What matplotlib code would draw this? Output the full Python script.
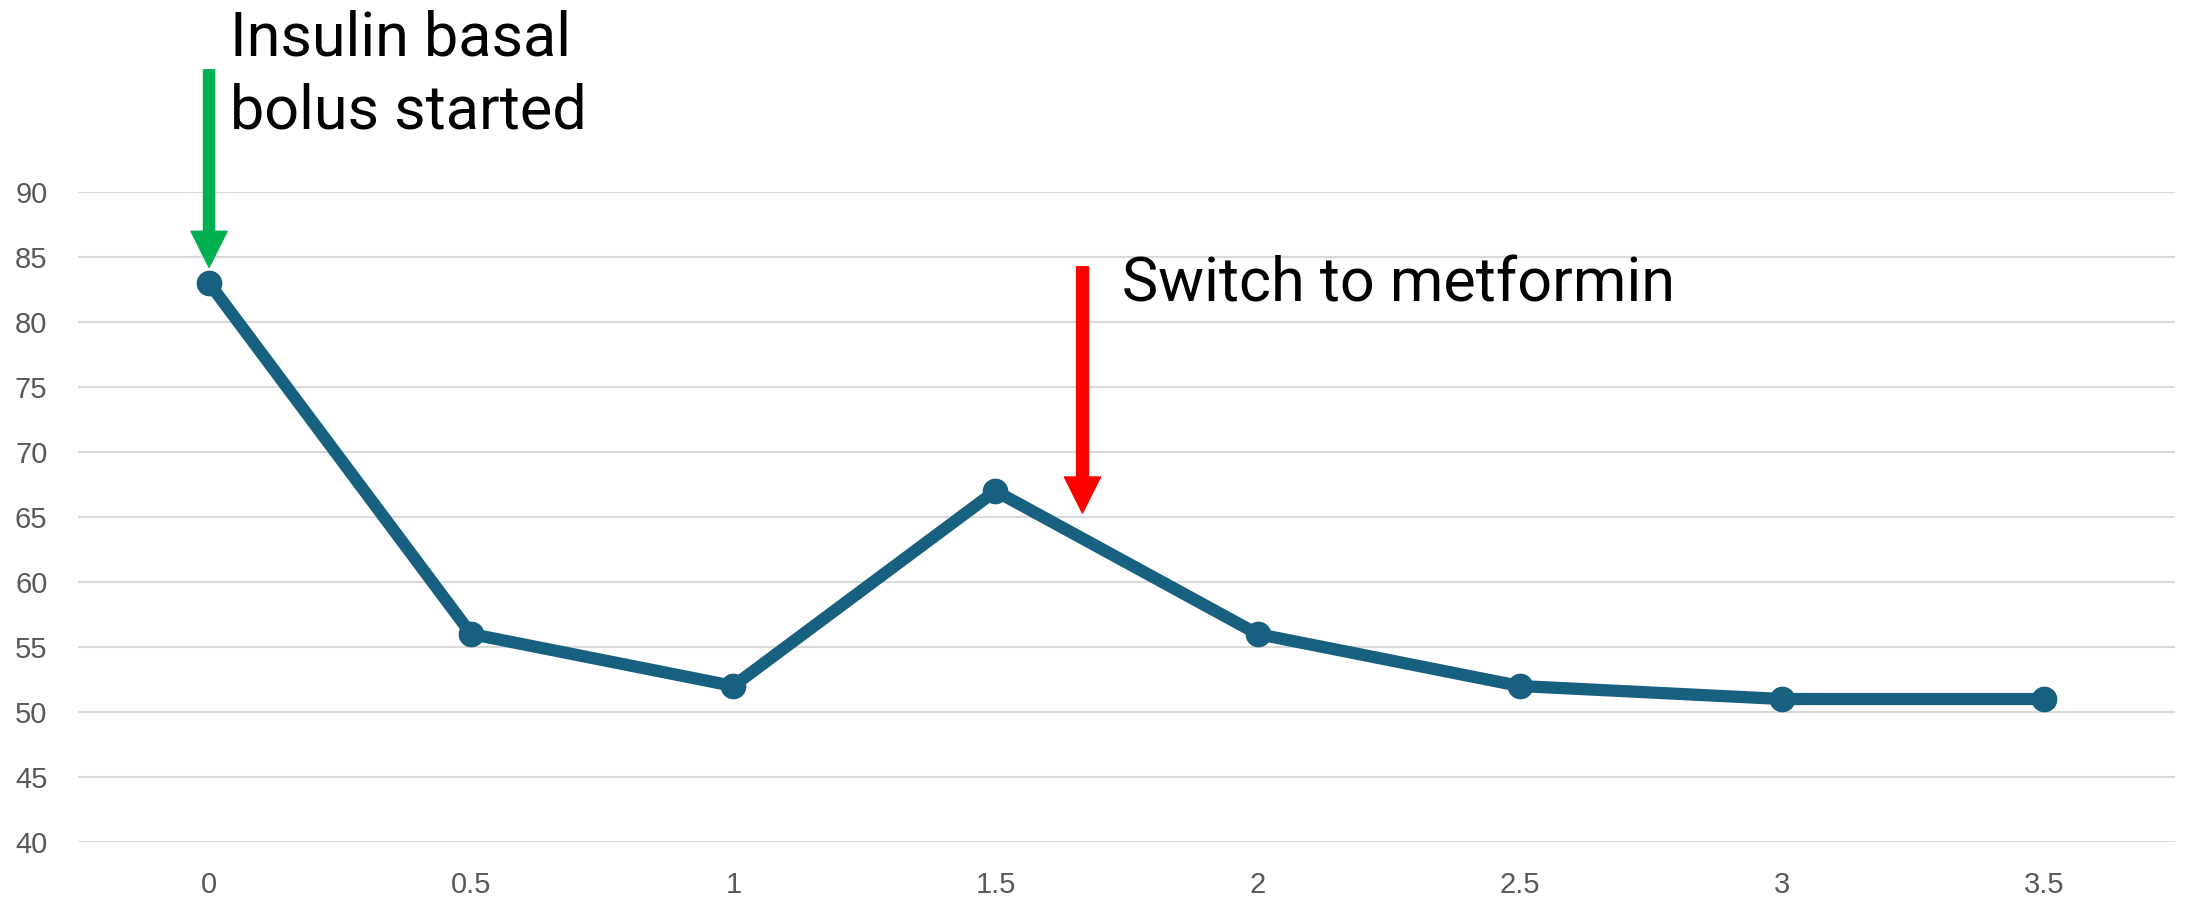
import numpy as np
from matplotlib import pyplot as plt

# data
years = [0, 0.5, 1, 1.5, 2, 2.5, 3, 3.5]
values = [83, 56, 52, 67, 56, 52, 51, 51]
x_ticks = [0, 0.5, 1, 1.5, 2, 2.5, 3, 3.5]
x_labels = ['0', '0.5', '1', '1.5', '2', '2.5', '3', '3.5']
y_ticks = [40, 45, 50, 55, 60, 65, 70, 75, 80, 85, 90]

line_col = '#18607F'
grid_col = '#D9D9D9'
tick_col = '#595959'
tick_font = ['Liberation Sans', 'DejaVu Sans']
note_font = ['Roboto', 'DejaVu Sans']

my_dpi = 100
fig = plt.figure(figsize=(2188/my_dpi, 900/my_dpi), dpi=my_dpi)
ax = fig.add_axes([78/2188, 1-842/900, (2175-78)/2188, (842-192)/900])

ax.plot(years, values, '-o', color=line_col, linewidth=8.8, markersize=17.5,
        solid_joinstyle='round', zorder=3)

ax.set_xlim(-0.25, 3.75)
ax.set_ylim(40, 90)
ax.set_xticks(x_ticks)
ax.set_xticklabels(x_labels)
ax.set_yticks(y_ticks)
ax.grid(axis='y', color=grid_col, linewidth=1.5)
ax.set_axisbelow(True)
for s in ax.spines.values():
    s.set_visible(False)
ax.tick_params(axis='both', length=0, labelsize=21, labelcolor=tick_col)
ax.tick_params(axis='x', pad=21)
ax.tick_params(axis='y', pad=22)
for lab in ax.get_xticklabels() + ax.get_yticklabels():
    lab.set_family(tick_font)

# green arrow: insulin start
ax.annotate('', xy=(0, 84.2), xytext=(0, 99.4), xycoords='data',
            annotation_clip=False,
            arrowprops=dict(arrowstyle='simple,head_length=26,head_width=26,tail_width=8',
                            mutation_scale=1, color='#00B050', shrinkA=0, shrinkB=0))
ax.text(0.04, 94.9, 'Insulin basal\nbolus started', fontsize=44, family=note_font,
        va='baseline', ha='left', linespacing=1.32, clip_on=False)

# red arrow: switch to metformin
ax.annotate('', xy=(1.666, 65.3), xytext=(1.666, 84.25), xycoords='data',
            annotation_clip=False,
            arrowprops=dict(arrowstyle='simple,head_length=26,head_width=26,tail_width=8.5',
                            mutation_scale=1, color='#FF0000', shrinkA=0, shrinkB=0))
ax.text(1.742, 81.6, 'Switch to metformin', fontsize=44, family=note_font,
        va='baseline', ha='left', clip_on=False)

fig.savefig('out.png', dpi=my_dpi)
